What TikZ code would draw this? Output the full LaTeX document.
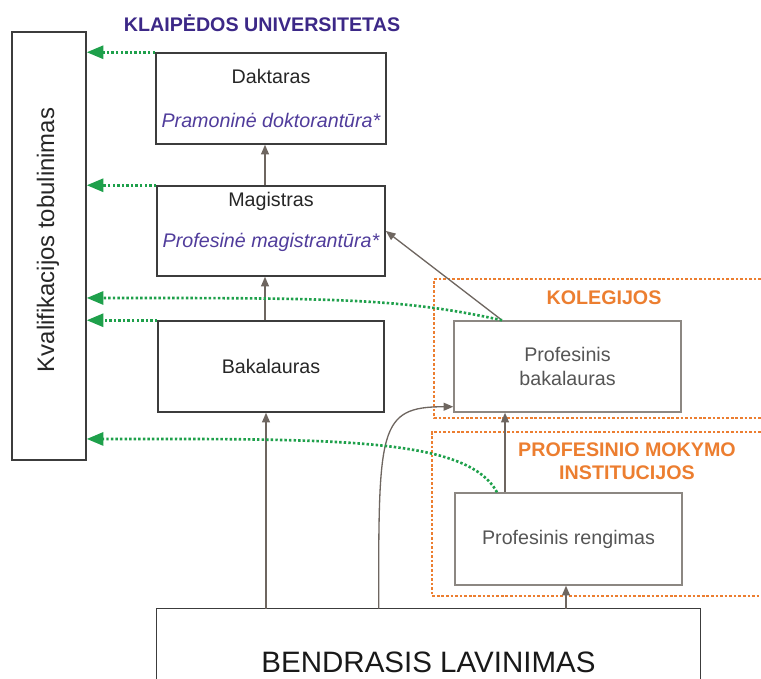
\documentclass[tikz,border=0pt]{standalone}
\usepackage{fontspec}
\setmainfont{Liberation Sans}
\usetikzlibrary{arrows.meta}
\definecolor{kupurple}{RGB}{60,40,135}
\definecolor{kuitalic}{RGB}{80,60,155}
\definecolor{kuorange}{RGB}{236,126,48}
\definecolor{kugreen}{RGB}{30,160,75}
\definecolor{arrgray}{RGB}{110,102,96}
\definecolor{boxgray}{RGB}{60,60,60}
\definecolor{pgray}{RGB}{140,135,130}
\definecolor{ptext}{RGB}{85,85,85}

\begin{document}
\begin{tikzpicture}[x=0.02cm,y=0.02cm,
    box/.style={draw=boxgray,line width=0.85pt,minimum width=4.52cm,minimum height=1.82cm,
      align=center,text=black!85,font=\fontsize{11.2}{13.5}\selectfont},
    pbox/.style={box,draw=pgray,text=ptext,minimum width=4.54cm},
    up/.style={draw=arrgray,line width=0.75pt,-{Triangle[length=5.5pt,width=4.5pt]}},
    back/.style={draw=kugreen,line width=1.5pt,dash pattern=on 1.4pt off 1.2pt,
      -{Triangle[length=9.5pt,width=7.5pt]}},
    zone/.style={draw=kuorange,line width=1.6pt,dash pattern=on 1.5pt off 1.1pt},
    zlabel/.style={text=kuorange,align=center,font=\bfseries\fontsize{11.2}{13}\selectfont}]
  \useasboundingbox (0,0) rectangle (761,679);

  % title and left column
  \node[font=\bfseries\fontsize{11.2}{13.5}\selectfont,text=kupurple] (ku) at (262,656) {KLAIPĖDOS UNIVERSITETAS};
  \node[box,minimum width=1.48cm,minimum height=8.56cm] (kval) at (49,433) {};
  \node[rotate=90,text=black!85,font=\fontsize{13.6}{16}\selectfont] (kvaltxt) at (48,439) {Kvalifikacijos tobulinimas};

  % university levels
  \node[box] (dakt) at (271,580.5) {Daktaras\\[12pt]{\itshape\color{kuitalic}Pramoninė doktorantūra*}};
  \node[box,minimum height=1.8cm,text depth=0.43cm] (magi) at (271,448) {Magistras\\[9.8pt]{\itshape\color{kuitalic}Profesinė magistrantūra*}};
  \node[box] (baka) at (271,312.5) {Bakalauras};

  % colleges and vocational schools
  \draw[zone] (761,400) -| (434,261) -- (761,261);
  \node[zlabel] (kol) at (604,381) {KOLEGIJOS};
  \node[pbox] (pbak) at (567.5,312.5) {Profesinis\\bakalauras};
  \draw[zone] (761,247) -| (432,83) -- (761,83);
  \node[zlabel] (pmi) at (627,217.5) {PROFESINIO MOKYMO\\INSTITUCIJOS};
  \node[pbox,minimum height=1.84cm] (preng) at (568.5,140) {Profesinis rengimas};

  % general education
  \node[text=black!90,font=\fontsize{16.8}{20}\selectfont,minimum width=10.86cm,minimum height=2.12cm] (bendr) at (428.5,17) {BENDRASIS LAVINIMAS};
  \draw[draw=boxgray,line width=0.85pt] ([yshift=-1.4cm]bendr.north west) -- (bendr.north west)
    -- (bendr.north east) -- ([yshift=-1.4cm]bendr.north east);

  % progression
  \draw[up] ([xshift=-0.12cm]magi.north) -- ([xshift=-0.12cm]dakt.south);
  \draw[up] ([xshift=-0.12cm]baka.north) -- ([xshift=-0.12cm]magi.south);
  \draw[up] ([xshift=-0.1cm]baka.south |- bendr.north) -- ([xshift=-0.1cm]baka.south);
  \draw[up] ([xshift=-1.31cm]pbak.north) -- (magi.east);
  \draw[up] ([xshift=-1.27cm]preng.north) -- ([xshift=-1.27cm]preng.north |- pbak.south);
  \draw[up] ([xshift=-0.05cm]preng.south |- bendr.north) -- ([xshift=-0.05cm]preng.south);
  \draw[up] ([xshift=4.44cm]bendr.north west) .. controls +(0,180) and +(-75,0) .. ([yshift=0.12cm]pbak.south west);

  % qualification upgrading
  \draw[back] (dakt.north west) -- (dakt.north west -| kval.east);
  \draw[back] (magi.north west) -- (magi.north west -| kval.east);
  \draw[back] (baka.north west) -- (baka.north west -| kval.east);
  \draw[back] ([xshift=-1.31cm]pbak.north) .. controls +(-100,22) and +(250,0) .. ([yshift=-1.04cm]kval.east);
  \draw[back] ([xshift=-1.43cm]preng.north) .. controls +(-30,55) and +(250,0) .. ([yshift=-3.86cm]kval.east);
\end{tikzpicture}
\end{document}
